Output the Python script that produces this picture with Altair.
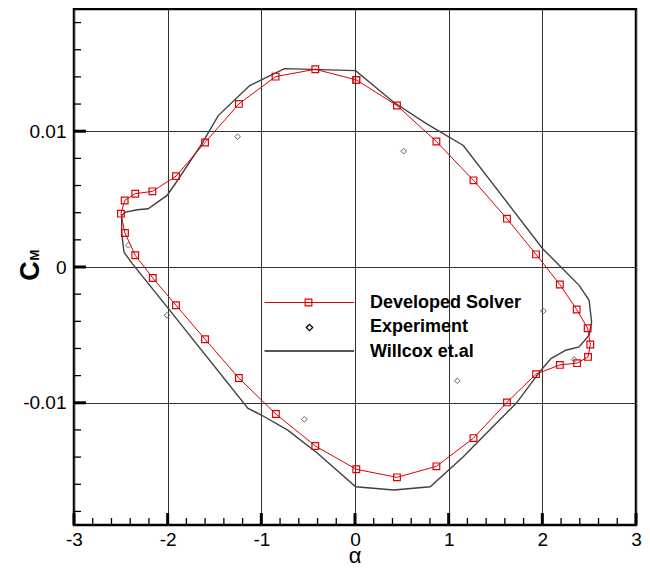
import altair as alt
import pandas as pd

# Developed Solver (red line with squares), loop order
ds_alpha = [0.014, 0.448, 0.869, 1.265, 1.622, 1.933, 2.187, 2.367, 2.484, 2.512, 2.488, 2.371,
            2.187, 1.933, 1.622, 1.265, 0.869, 0.448, 0.014, -0.424, -0.845, -1.240, -1.601, -1.911,
            -2.159, -2.346, -2.456, -2.499, -2.459, -2.346, -2.163, -1.911, -1.601, -1.240, -0.848, -0.424]
ds_cm = [0.01378, 0.01189, 0.00924, 0.00638, 0.00356, 0.00093, -0.00129, -0.00313, -0.00451, -0.00571,
         -0.00662, -0.00708, -0.00721, -0.00789, -0.00997, -0.01260, -0.01468, -0.01549, -0.01490,
         -0.01318, -0.01083, -0.00818, -0.00532, -0.00282, -0.00081, 0.00086, 0.00250, 0.00393,
         0.00490, 0.00540, 0.00557, 0.00669, 0.00917, 0.01201, 0.01402, 0.01456]

# Willcox et.al (gray line), loop order
w_alpha = [-0.753, 0.007, 0.413, 0.766, 1.156, 2.004, 2.393, 2.499, 2.526, 2.499, 2.393, 2.251, 2.092,
           1.986, 1.721, 1.509, 1.156, 0.803, 0.413, 0.007, -0.400, -0.718, -1.000, -1.142, -2.007,
           -2.378, -2.467, -2.491, -2.491, -2.449, -2.325, -2.208, -2.007, -1.919, -1.636, -1.460, -1.124]
w_cm = [0.01461, 0.01446, 0.01213, 0.01054, 0.00895, 0.00135, -0.00135, -0.00245, -0.00404, -0.00502,
        -0.00588, -0.00613, -0.00674, -0.00760, -0.01004, -0.01151, -0.01397, -0.01618, -0.01642,
        -0.01618, -0.01372, -0.01201, -0.01090, -0.01041, -0.00294, 0.00025, 0.00110, 0.00257,
        0.00380, 0.00404, 0.00422, 0.00429, 0.00527, 0.00613, 0.00907, 0.01115, 0.01336]

# Experiment (diamonds)
e_alpha = [-1.254, 0.519, 2.011, 2.340, 1.092, -0.541, -2.007, -2.420]
e_cm = [0.00959, 0.00853, -0.00324, -0.00681, -0.00838, -0.01122, -0.00355, 0.00160]

# axes
x_major = [-3, -2, -1, 0, 1, 2, 3]
x_minor = [-2.8, -2.6, -2.4, -2.2, -1.8, -1.6, -1.4, -1.2, -0.8, -0.6, -0.4, -0.2,
           0.2, 0.4, 0.6, 0.8, 1.2, 1.4, 1.6, 1.8, 2.2, 2.4, 2.6, 2.8]
y_major = [-0.01, 0.0, 0.01]
y_minor = [-0.018, -0.016, -0.014, -0.012, -0.008, -0.006, -0.004, -0.002,
           0.002, 0.004, 0.006, 0.008, 0.012, 0.014, 0.016, 0.018]
legend_labels = ["Developed Solver", "Experiment", "Willcox et.al"]

W, H = 562, 516
FONT = "Liberation Sans"
RED = "#e00000"
GRAY = "#404040"

xs = alt.Scale(domain=[-3, 3], nice=False, zero=False)
ys = alt.Scale(domain=[-0.019, 0.019], nice=False, zero=False)

ds_df = pd.DataFrame({"a": ds_alpha + [ds_alpha[0]], "cm": ds_cm + [ds_cm[0]],
                      "i": list(range(len(ds_alpha) + 1))})
w_df = pd.DataFrame({"a": w_alpha + [w_alpha[0]], "cm": w_cm + [w_cm[0]],
                     "i": list(range(len(w_alpha) + 1))})
e_df = pd.DataFrame({"a": e_alpha, "cm": e_cm})

x_axis = alt.Axis(values=x_major, grid=True, ticks=False, domain=False, title=None,
                  labelExpr="(datum.value < 0 ? '-' : '') + format(abs(datum.value), 'd')",
                  labelFont=FONT, labelFontSize=19, labelColor="black", labelPadding=5,
                  gridColor="#333333", gridWidth=1, labelFlush=False)
y_axis = alt.Axis(values=y_major, grid=True, ticks=False, domain=False, title=None,
                  labelExpr="datum.value == 0 ? '0' : (datum.value < 0 ? '-' : '') + format(abs(datum.value), '.2f')",
                  labelFont=FONT, labelFontSize=19, labelColor="black", labelPadding=8,
                  gridColor="#333333", gridWidth=1, labelFlush=False)


def X(field):
    return alt.X(field, scale=xs, axis=x_axis)


def Y(field):
    return alt.Y(field, scale=ys, axis=y_axis)


willcox = alt.Chart(w_df).mark_line(color=GRAY, strokeWidth=1.4).encode(
    x=X("a:Q"), y=Y("cm:Q"), order="i:Q")
solver_line = alt.Chart(ds_df).mark_line(color=RED, strokeWidth=1).encode(
    x=X("a:Q"), y=Y("cm:Q"), order="i:Q")
solver_pts = alt.Chart(ds_df).mark_point(shape="square", filled=False, color=RED, size=45,
                                         strokeWidth=1.2, opacity=1).encode(
    x=X("a:Q"), y=Y("cm:Q"))
exp_pts = alt.Chart(e_df).mark_point(shape="diamond", filled=False, color="#666666", size=32,
                                     strokeWidth=1, opacity=1).encode(
    x=X("a:Q"), y=Y("cm:Q"))

# inward ticks
xmaj = alt.Chart(pd.DataFrame({"t": x_major})).mark_rule(color="black", strokeWidth=3).encode(
    x=X("t:Q"), y=alt.value(H), y2=alt.value(H - 12))
xmin = alt.Chart(pd.DataFrame({"t": x_minor})).mark_rule(color="black", strokeWidth=1.3).encode(
    x=X("t:Q"), y=alt.value(H), y2=alt.value(H - 7))
ymaj = alt.Chart(pd.DataFrame({"t": y_major})).mark_rule(color="black", strokeWidth=3).encode(
    y=Y("t:Q"), x=alt.value(0), x2=alt.value(12))
ymin = alt.Chart(pd.DataFrame({"t": y_minor})).mark_rule(color="black", strokeWidth=1.3).encode(
    y=Y("t:Q"), x=alt.value(0), x2=alt.value(7))

one = alt.Data(values=[{"k": 0}])

# legend
leg_red = alt.Chart(one).mark_rule(color=RED, strokeWidth=1).encode(
    x=alt.value(190.5), x2=alt.value(280), y=alt.value(293.5))
leg_sq = alt.Chart(one).mark_point(shape="square", filled=False, color=RED, size=45,
                                   strokeWidth=1.2, opacity=1).encode(
    x=alt.value(234.5), y=alt.value(293.5))
leg_dia = alt.Chart(one).mark_point(shape="diamond", filled=False, color="black", size=40,
                                    strokeWidth=1.3, opacity=1).encode(
    x=alt.value(235.5), y=alt.value(318.5))
leg_gray = alt.Chart(one).mark_rule(color="#555555", strokeWidth=1.8).encode(
    x=alt.value(190.5), x2=alt.value(280), y=alt.value(342))
leg_texts = [
    alt.Chart(one).mark_text(font=FONT, fontSize=18, fontWeight="bold", align="left",
                             baseline="alphabetic", color="black").encode(
        x=alt.value(296), y=alt.value(yy), text=alt.value(lab))
    for lab, yy in zip(legend_labels, [299, 322.5, 347.5])
]

# axis titles
cm_c = alt.Chart(one).mark_text(font=FONT, fontSize=27, fontWeight="bold", angle=270,
                                align="center", baseline="alphabetic", color="black").encode(
    x=alt.value(-35.5), y=alt.value(262), text=alt.value("C"))
cm_m = alt.Chart(one).mark_text(font=FONT, fontSize=13, fontWeight="bold", angle=270,
                                align="center", baseline="alphabetic", color="black").encode(
    x=alt.value(-35), y=alt.value(246), text=alt.value("M"))
alpha_t = alt.Chart(one).mark_text(font=FONT, fontSize=22, align="center",
                                   baseline="alphabetic", color="black").encode(
    x=alt.value(281), y=alt.value(554), text=alt.value("α"))

chart = alt.layer(
    willcox, solver_line, solver_pts, exp_pts, xmaj, xmin, ymaj, ymin,
    leg_red, leg_sq, leg_dia, leg_gray, *leg_texts, cm_c, cm_m, alpha_t
).properties(
    width=W, height=H,
    padding={"left": 66, "top": 1, "right": 6, "bottom": 40},
    autosize=alt.AutoSizeParams(type="none"),
    background="white",
).configure_view(stroke="black", strokeWidth=2.5)

chart.save("out.html", embed_options={"renderer": "svg", "actions": False})
